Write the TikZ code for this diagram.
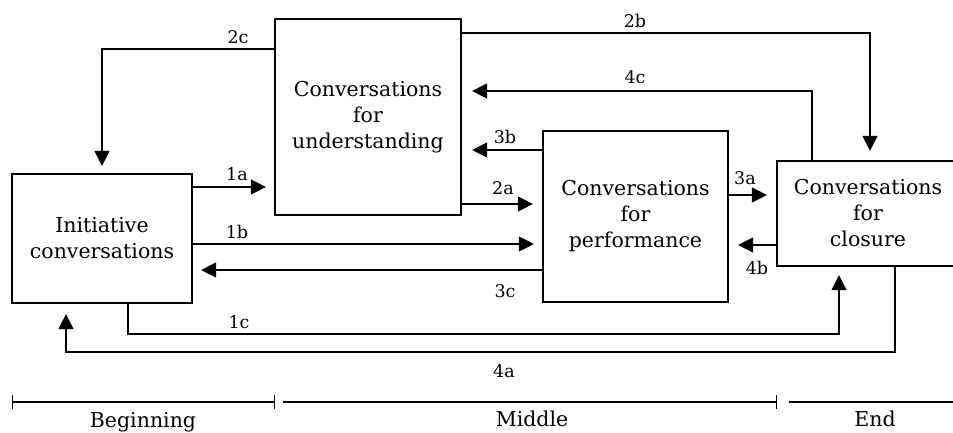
\documentclass[tikz,border=0pt]{standalone}
\usepackage{fontspec}
\setmainfont{DejaVu Serif}
\usetikzlibrary{arrows.meta}
\begin{document}
\begin{tikzpicture}[x=1pt,y=-1pt,
  box/.style={draw,line width=2.2pt,inner sep=0pt,align=center,font=\fontsize{20.5}{26}\selectfont},
  conn/.style={line width=1.3pt,-{Triangle[length=15pt,width=15pt]}},
  plain/.style={line width=1.3pt},
  lbl/.style={font=\fontsize{17.5}{20}\selectfont,inner sep=0pt},
  phase/.style={font=\fontsize{20.5}{24}\selectfont,inner sep=0pt,anchor=base}]
\useasboundingbox (0,0) rectangle (953,432);
\clip (0,0) rectangle (953,432);
% boxes
\node[box,minimum width=186pt,minimum height=196pt] (U) at (368,117) {Conversations\\for\\understanding};
\node[box,minimum width=180pt,minimum height=129pt] (I) at (102,238.5) {Initiative\\conversations};
\node[box,minimum width=185pt,minimum height=171pt] (P) at (635.5,216.5) {Conversations\\for\\performance};
\node[box,minimum width=182pt,minimum height=105pt] (C) at (868,213.5) {Conversations\\for\\closure};
% bend points
\coordinate (b1c) at (839,334);
\coordinate (b4a) at (66,352);
% connectors
\draw[conn,shorten >=7pt] (U.west |- 0,49) -| (I.north);
\draw[conn,shorten >=8pt] (I.east |- 0,187) -- (U.west |- 0,187);
\draw[conn,shorten >=8pt] (I.east |- 0,244) -- (P.west |- 0,244);
\draw[conn,shorten >=8pt] (P.west |- 0,270) -- (I.east |- 0,270);
\draw[conn,shorten >=9pt] (U.east |- 0,204) -- (P.west |- 0,204);
\draw[conn,shorten >=10pt] (P.west |- 0,150) -- (U.east |- 0,150);
\draw[conn,shorten >=9pt] (P.east |- 0,195) -- (C.west |- 0,195);
\draw[conn,shorten >=9pt] (C.west |- 0,245) -- (P.east |- 0,245);
\draw[conn,shorten >=9pt] (U.east |- 0,33) -| (870,0 |- C.north);
\draw[conn,shorten >=10pt] (812,0 |- C.north) |- (U.east |- 0,91);
\draw[conn,shorten >=8pt] (128,0 |- I.south) |- (b1c) -- (b1c |- C.south);
\draw[conn,shorten >=10pt] (895,0 |- C.south) |- (b4a) -- (b4a |- I.south);
% labels
\node[lbl] (l2c) at (238,37) {2c};
\node[lbl] (l1a) at (237,174) {1a};
\node[lbl] (l1b) at (237,232) {1b};
\node[lbl] (l1c) at (239,322) {1c};
\node[lbl] (l2b) at (635,21) {2b};
\node[lbl] (l4c) at (635,77) {4c};
\node[lbl] (l3b) at (505,137) {3b};
\node[lbl] (l2a) at (503,188) {2a};
\node[lbl] (l3a) at (745,178) {3a};
\node[lbl] (l3c) at (505,291) {3c};
\node[lbl] (l4b) at (757,268) {4b};
\node[lbl] (l4a) at (504,371) {4a};
% phases
\draw[plain,{Bar[width=14pt]}-{Bar[width=14pt]}] (12,402) -- (275,402);
\draw[plain,-{Bar[width=14pt]}] (283,402) -- (777,402);
\draw[plain] (789,402) -- (953,402);
\node[phase] (ph1) at (143,427) {Beginning};
\node[phase] (ph2) at (532,426) {Middle};
\node[phase] (ph3) at (875,426) {End};
\end{tikzpicture}
\end{document}
